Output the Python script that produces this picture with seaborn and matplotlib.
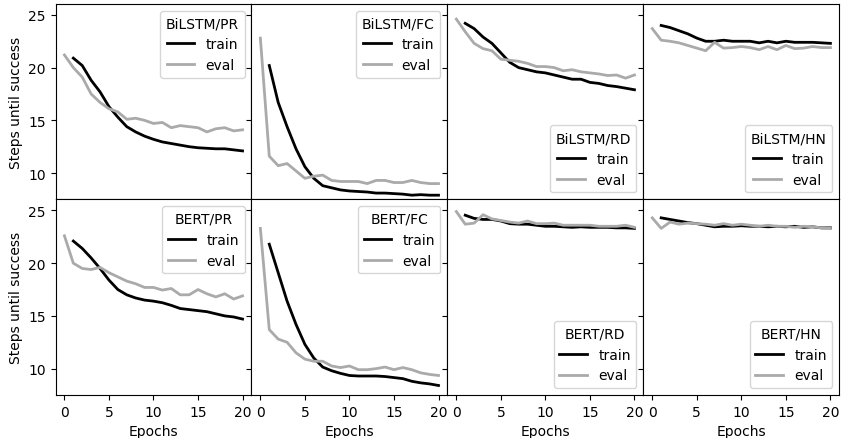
import matplotlib
matplotlib.use("Agg")
import matplotlib.pyplot as plt
import pandas as pd
import seaborn as sns

# epochs
train_epochs = list(range(1, 21))
eval_epochs = list(range(0, 21))

# panel names, row by row
panels = ["BiLSTM/PR", "BiLSTM/FC", "BiLSTM/RD", "BiLSTM/HN",
          "BERT/PR", "BERT/FC", "BERT/RD", "BERT/HN"]

# train curves (epochs 1..20)
train_bilstm_pr = [20.9, 20.2, 18.8, 17.7, 16.3, 15.3, 14.4, 13.9, 13.5, 13.2,
                   12.95, 12.8, 12.65, 12.5, 12.4, 12.35, 12.3, 12.3, 12.2, 12.1]
train_bilstm_fc = [20.2, 16.7, 14.4, 12.3, 10.6, 9.5, 8.8, 8.6, 8.4, 8.3,
                   8.25, 8.2, 8.1, 8.1, 8.05, 8.0, 7.9, 7.95, 7.9, 7.9]
train_bilstm_rd = [24.2, 23.7, 22.9, 22.3, 21.4, 20.5, 20.0, 19.8, 19.6, 19.5,
                   19.3, 19.1, 18.9, 18.9, 18.6, 18.5, 18.3, 18.2, 18.05, 17.9]
train_bilstm_hn = [24.0, 23.8, 23.5, 23.2, 22.8, 22.5, 22.5, 22.6, 22.5, 22.5,
                   22.5, 22.35, 22.5, 22.35, 22.5, 22.4, 22.4, 22.4, 22.35, 22.3]
train_bert_pr = [22.1, 21.4, 20.5, 19.5, 18.4, 17.5, 17.0, 16.7, 16.5, 16.4,
                 16.25, 16.0, 15.7, 15.6, 15.5, 15.4, 15.2, 15.0, 14.9, 14.7]
train_bert_fc = [21.8, 19.1, 16.4, 14.2, 12.3, 11.0, 10.15, 9.8, 9.55, 9.35,
                 9.3, 9.3, 9.3, 9.25, 9.15, 9.05, 8.8, 8.65, 8.55, 8.4]
train_bert_rd = [24.55, 24.25, 24.15, 24.15, 24.0, 23.75, 23.7, 23.7, 23.6, 23.5,
                 23.5, 23.45, 23.4, 23.45, 23.4, 23.4, 23.4, 23.35, 23.35, 23.3]
train_bert_hn = [24.3, 24.15, 24.0, 23.85, 23.75, 23.6, 23.45, 23.5, 23.5, 23.55,
                 23.5, 23.5, 23.45, 23.5, 23.45, 23.5, 23.4, 23.45, 23.35, 23.35]

# eval curves (epochs 0..20)
eval_bilstm_pr = [21.2, 20.0, 19.1, 17.5, 16.7, 16.1, 15.8, 15.1, 15.2, 15.0,
                  14.7, 14.8, 14.3, 14.5, 14.4, 14.3, 13.9, 14.2, 14.3, 14.0, 14.1]
eval_bilstm_fc = [22.8, 11.6, 10.7, 10.9, 10.2, 9.5, 9.7, 9.8, 9.3, 9.2,
                  9.2, 9.2, 9.0, 9.3, 9.3, 9.1, 9.1, 9.3, 9.1, 9.0, 9.0]
eval_bilstm_rd = [24.6, 23.4, 22.3, 21.8, 21.6, 20.8, 20.7, 20.6, 20.4, 20.1,
                  20.1, 20.0, 19.7, 19.8, 19.6, 19.5, 19.4, 19.25, 19.3, 19.0, 19.3]
eval_bilstm_hn = [23.7, 22.6, 22.5, 22.35, 22.1, 21.85, 21.6, 22.4, 21.85, 21.9,
                  22.0, 21.9, 21.7, 22.0, 21.7, 22.1, 21.8, 21.85, 22.0, 21.9, 21.9]
eval_bert_pr = [22.6, 20.0, 19.5, 19.4, 19.6, 19.1, 18.7, 18.3, 18.05, 17.7,
                17.7, 17.45, 17.6, 17.0, 17.0, 17.5, 17.1, 16.8, 17.1, 16.6, 16.9]
eval_bert_fc = [23.3, 13.7, 12.8, 12.5, 11.5, 10.9, 10.7, 10.7, 10.25, 10.1,
                10.25, 9.9, 9.9, 10.0, 10.15, 9.9, 10.1, 9.9, 9.6, 9.45, 9.35]
eval_bert_rd = [24.9, 23.7, 23.8, 24.6, 24.2, 24.05, 23.9, 23.8, 24.0, 23.75,
                23.75, 23.8, 23.6, 23.6, 23.6, 23.6, 23.5, 23.5, 23.5, 23.6, 23.4]
eval_bert_hn = [24.3, 23.3, 23.9, 23.7, 23.8, 23.75, 23.7, 23.6, 23.75, 23.6,
                23.7, 23.6, 23.5, 23.6, 23.5, 23.5, 23.4, 23.5, 23.45, 23.35, 23.3]

train_curves = [train_bilstm_pr, train_bilstm_fc, train_bilstm_rd, train_bilstm_hn,
                train_bert_pr, train_bert_fc, train_bert_rd, train_bert_hn]
eval_curves = [eval_bilstm_pr, eval_bilstm_fc, eval_bilstm_rd, eval_bilstm_hn,
               eval_bert_pr, eval_bert_fc, eval_bert_rd, eval_bert_hn]

legend_loc = ["upper right", "upper right", "lower right", "lower right"] * 2

plt.rcParams["font.size"] = 10
fig, axes = plt.subplots(2, 4, figsize=(8.41, 4.39), dpi=100, sharex=True, sharey=True)
fig.subplots_adjust(left=0.066, right=0.998, top=0.989, bottom=0.098, wspace=0, hspace=0)

for i, ax in enumerate(axes.flat):
    df = pd.concat([
        pd.DataFrame({"Epochs": train_epochs, "steps": train_curves[i], "split": "train"}),
        pd.DataFrame({"Epochs": eval_epochs, "steps": eval_curves[i], "split": "eval"}),
    ])
    sns.lineplot(data=df, x="Epochs", y="steps", hue="split",
                 palette={"train": "black", "eval": "#aaaaaa"},
                 linewidth=2, ax=ax)
    ax.legend(title=panels[i], loc=legend_loc[i], fontsize=10, title_fontsize=10)
    ax.set_ylabel("Steps until success" if i % 4 == 0 else "")
    ax.set_xlabel("Epochs" if i >= 4 else "")

axes[0, 0].set_xlim(-1, 21)
axes[0, 0].set_ylim(7.5, 26.05)
axes[0, 0].set_xticks([0, 5, 10, 15, 20])
axes[0, 0].set_yticks([10, 15, 20, 25])

fig.savefig("out.png", dpi=100)
